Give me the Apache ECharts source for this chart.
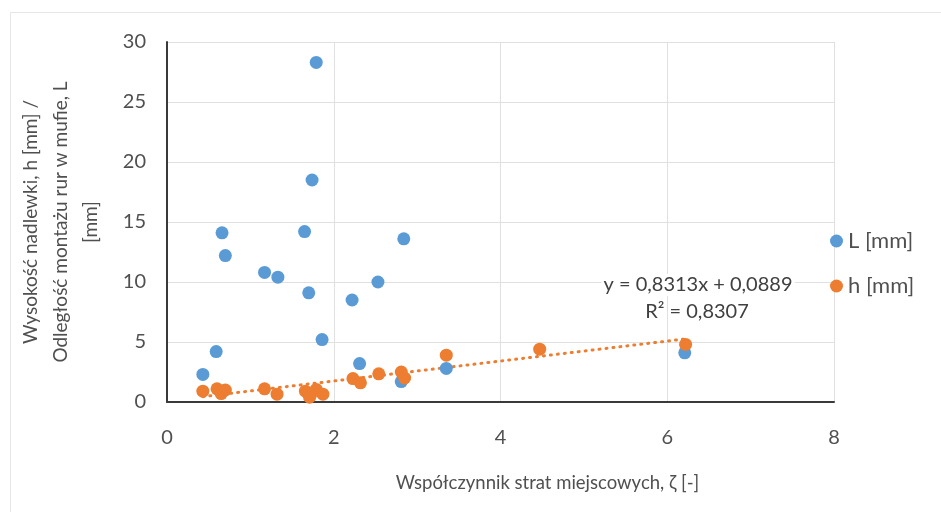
<!DOCTYPE html>
<html>
<head>
<meta charset="utf-8">
<script src="https://cdn.jsdelivr.net/npm/echarts@6/dist/echarts.min.js"></script>
<style>
  html, body { margin: 0; padding: 0; background: #fff; }
  #chart { width: 941px; height: 512px; }
</style>
</head>
<body>
<div id="chart"></div>
<script>
// L [mm] points (zeta, L)
var zetaL = [0.43, 0.59, 0.66, 0.70, 1.17, 1.33, 1.65, 1.70, 1.74, 1.79, 1.86, 2.22, 2.31, 2.53, 2.81, 2.84, 3.35, 6.21];
var valL  = [2.3, 4.2, 14.1, 12.2, 10.8, 10.4, 14.2, 9.1, 18.5, 28.3, 5.2, 8.5, 3.2, 10.0, 1.7, 13.6, 2.8, 4.1];
// h [mm] points (zeta, h)
var zetaH = [0.43, 0.60, 0.65, 0.70, 1.17, 1.32, 1.66, 1.71, 1.73, 1.79, 1.87, 2.23, 2.32, 2.54, 2.81, 2.85, 3.35, 4.47, 6.22];
var valH  = [0.9, 1.1, 0.7, 1.0, 1.1, 0.65, 0.9, 0.4, 0.7, 1.05, 0.65, 1.95, 1.6, 2.35, 2.5, 2.0, 3.9, 4.4, 4.8];
// linear trendline for h (from the equation shown)
var trendSlope = 0.8313;
var trendIntercept = 0.0889;
var trendR2 = '0,8307';
var xTicks = [0, 2, 4, 6, 8];
var yTicks = [0, 5, 10, 15, 20, 25, 30];

var blue = '#5B9BD5', orange = '#ED7D31', txt = '#505050';
var font = 'Lato, "Open Sans", sans-serif';

function pairs(xs, ys) {
  return xs.map(function (x, i) { return [x, ys[i]]; });
}
function pl(n) { return String(n).replace('.', ','); }
var xMin = Math.min.apply(null, zetaH), xMax = Math.max.apply(null, zetaH);
var trendData = [xMin, xMax].map(function (x) { return [x, trendSlope * x + trendIntercept]; });

var chart = echarts.init(document.getElementById('chart'));
var option = {
  backgroundColor: '#fff',
  animation: false,
  textStyle: { fontFamily: font, color: txt },
  grid: { left: 167, right: 107, top: 42, bottom: 110, outerBoundsMode: 'none', containLabel: false },
  legend: {
    orient: 'vertical',
    left: 830, top: 230, padding: 0,
    itemGap: 23, itemWidth: 13, itemHeight: 13,
    icon: 'circle',
    data: ['L [mm]', 'h [mm]'],
    textStyle: { fontFamily: font, fontSize: 22, color: txt }
  },
  xAxis: {
    type: 'value', min: xTicks[0], max: xTicks[xTicks.length - 1], interval: 2,
    name: 'Współczynnik strat miejscowych, ζ [-]',
    nameLocation: 'middle', nameGap: 72,
    nameTextStyle: { fontFamily: font, fontSize: 18.5, color: txt, padding: [0, 0, 0, 94] },
    axisLine: { lineStyle: { color: '#3a3a3a', width: 2 } },
    axisTick: { show: false },
    axisLabel: { fontSize: 20, color: txt, margin: 26 },
    splitLine: { lineStyle: { color: '#e0e0e0', width: 1 } }
  },
  yAxis: {
    type: 'value', min: yTicks[0], max: yTicks[yTicks.length - 1], interval: 5,
    name: 'Wysokość nadlewki, h [mm] /\nOdległość montażu rur w mufie, L\n[mm]',
    nameLocation: 'middle', nameGap: 61,
    nameTextStyle: { fontFamily: font, fontSize: 19, color: txt, lineHeight: 30, align: 'center' },
    axisLine: { show: true, lineStyle: { color: '#3a3a3a', width: 2 } },
    axisTick: { show: false },
    axisLabel: { fontSize: 20, color: txt, margin: 21 },
    splitLine: { lineStyle: { color: '#e0e0e0', width: 1 } }
  },
  graphic: [
    { type: 'rect', left: 8, top: 10, shape: { width: 1000, height: 600 }, style: { fill: 'none', stroke: '#e6e6e6', lineWidth: 1 }, silent: true },
    { type: 'text', x: 698, y: 285, z: 10, style: { text: 'y = ' + pl(trendSlope) + 'x + ' + pl(trendIntercept), font: '20px ' + font, fill: '#404040', align: 'center', verticalAlign: 'middle', backgroundColor: '#fff', padding: [1, 2] } },
    { type: 'text', x: 697, y: 312, z: 10, style: { text: 'R² = ' + trendR2, font: '20px ' + font, fill: '#404040', align: 'center', verticalAlign: 'middle' } }
  ],
  series: [
    {
      name: 'L [mm]', type: 'scatter', symbolSize: 13,
      itemStyle: { color: blue, opacity: 1 },
      data: pairs(zetaL, valL), z: 3
    },
    {
      name: 'h [mm]', type: 'scatter', symbolSize: 13,
      itemStyle: { color: orange, opacity: 1 },
      data: pairs(zetaH, valH), z: 4
    },
    {
      name: 'trend', type: 'line', showSymbol: false, symbol: 'none',
      lineStyle: { color: orange, width: 3, type: [1, 6], cap: 'round' },
      data: trendData, z: 2, silent: true
    }
  ]
};
chart.setOption(option);
</script>
</body>
</html>
